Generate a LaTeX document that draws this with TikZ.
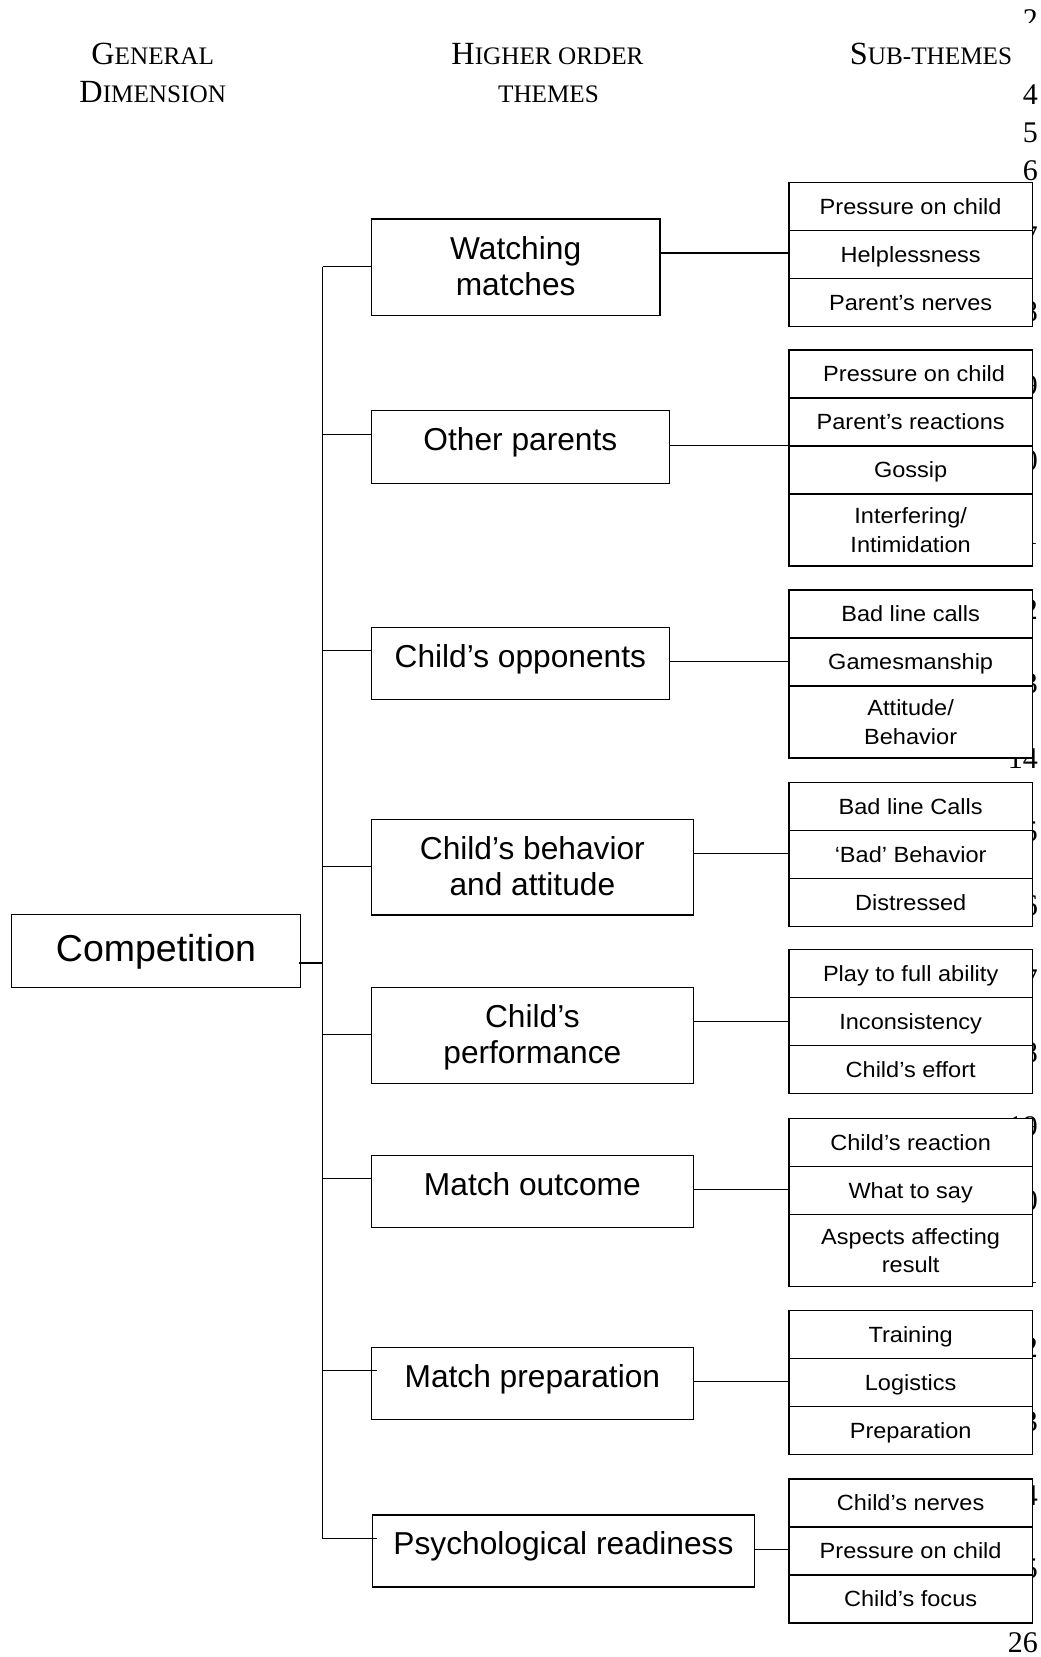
\documentclass[tikz,border=0pt]{standalone}
\usepackage{fontspec}
\setmainfont{Liberation Serif}
\newfontfamily\arialf{Liberation Sans}
\newfontfamily\subf[FakeStretch=1.07]{Liberation Sans}
\newcommand\smcx[1]{{\fontsize{25.2}{25.2}\selectfont #1}}
\newcommand\twoln[2]{\begin{tabular}[t]{@{}c@{}}#1\\#2\end{tabular}}
\begin{document}
\begin{tikzpicture}[x=1pt,y=-1pt,
  box/.style={draw, line width=1.3pt, inner sep=0pt, fill=white, anchor=north west},
  midone/.style={box, font=\arialf\fontsize{31.7}{36}\selectfont, text height=22.7pt, text depth=15.2pt},
  midtwo/.style={box, font=\arialf\fontsize{31.7}{36}\selectfont, text height=22.7pt, text depth=38.1pt},
  subone/.style={box, font=\subf\fontsize{22}{28.5}\selectfont, minimum width=243.4pt, minimum height=48pt, text height=15.7pt, text depth=0pt},
  subtwo/.style={subone, minimum height=72pt, text depth=28.5pt},
  hdr/.style={font=\fontsize{32.3}{38}\selectfont, inner sep=0pt, anchor=base},
  lnum/.style={font=\fontsize{30}{30}\selectfont, inner sep=0pt, anchor=base east},
  trunkline/.style={line width=1.4pt},
  conn/.style={line width=1.15pt}]
\useasboundingbox (0,0) rectangle (1041,1657);
\fill[white] (0,0) rectangle (1041,1657);

% stray line numbers of the page (partly hidden behind boxes)
\node[lnum] (n2) at (1038,29.5) {2};
\node[lnum] (n3) at (1038,66.6) {3};
\node[lnum] (n4) at (1038,104.6) {4};
\node[lnum] (n5) at (1038,142.6) {5};
\node[lnum] (n6) at (1038,180.6) {6};
\foreach \n in {7,...,13} {
  \node[lnum] (n\n) at (1038,{768-(14-\n)*74.5}) {\n};
}
\foreach \n in {14,...,26} {
  \node[lnum] (n\n) at (1038,{768+(\n-14)*73.7}) {\n};
}
\fill[white] (800,22.5) rectangle (1041,82);

% headers
\node[hdr] (h1a) at (152.7,64.5) {G\smcx{ENERAL}};
\node[hdr] (h1b) at (152.7,102.5) {D\smcx{IMENSION}};
\node[hdr] (h2a) at (547.5,64.5) {H\smcx{IGHER ORDER}};
\node[hdr] (h2b) at (548.5,102.5) {\smcx{THEMES}};
\node[hdr] (h3a) at (931,64.5) {S\smcx{UB-THEMES}};

% general dimension
\node[box, font=\arialf\fontsize{37.5}{40}\selectfont, text height=26.8pt, text depth=6.8pt,
      minimum width=289.3pt, minimum height=73pt] (comp) at (10.7,914) {Competition};

% higher order themes
\node[midtwo, minimum width=288.6pt, minimum height=96.4pt] (m1) at (370.7,218.3) {\twoln{Watching}{matches}};
\node[midone, minimum width=298pt, minimum height=72.7pt] (m2) at (370.7,410) {Other parents};
\node[midone, minimum width=298pt, minimum height=72pt] (m3) at (370.7,626.7) {Child’s opponents};
\node[midtwo, minimum width=322pt, minimum height=95.3pt] (m4) at (370.7,819) {\twoln{Child’s behavior}{and attitude}};
\node[midtwo, minimum width=322pt, minimum height=96pt] (m5) at (370.7,986.5) {\twoln{Child’s}{performance}};
\node[midone, minimum width=322pt, minimum height=72.3pt] (m6) at (370.7,1154.7) {Match outcome};
\node[midone, minimum width=322pt, minimum height=72pt] (m7) at (370.7,1346.7) {Match preparation};
\node[midone, minimum width=382.3pt, minimum height=72pt] (m8) at (371.7,1514.3) {Psychological readiness};

% sub-themes
\node[subone] (s1a) at (788.3,181.7) {Pressure on child};
\node[subone] (s1b) at (788.3,229.7) {Helplessness};
\node[subone] (s1c) at (788.3,277.7) {Parent’s nerves};

\node[subone] (s2a) at (788.3,349.3) {\hspace{7pt}Pressure on child};
\node[subone] (s2b) at (788.3,397.3) {Parent’s reactions};
\node[subone] (s2c) at (788.3,445.3) {Gossip};
\node[subtwo] (s2d) at (788.3,493.3) {\twoln{Interfering/}{Intimidation}};

\node[subone] (s3a) at (788.3,589.3) {Bad line calls};
\node[subone] (s3b) at (788.3,637.3) {Gamesmanship};
\node[subtwo] (s3c) at (788.3,685.3) {\twoln{Attitude/}{Behavior}};

\node[subone] (s4a) at (788.3,781.7) {Bad line Calls};
\node[subone] (s4b) at (788.3,829.7) {‘Bad’ Behavior};
\node[subone] (s4c) at (788.3,877.7) {Distressed};

\node[subone] (s5a) at (788.3,949) {Play to full ability};
\node[subone] (s5b) at (788.3,997) {Inconsistency};
\node[subone] (s5c) at (788.3,1045) {Child’s effort};

\node[subone] (s6a) at (788.3,1117.8) {Child’s reaction};
\node[subone] (s6b) at (788.3,1165.8) {What to say};
\node[subtwo] (s6c) at (788.3,1213.8) {\twoln{Aspects affecting}{result}};

\node[subone] (s7a) at (788.3,1309.6) {Training};
\node[subone] (s7b) at (788.3,1357.6) {Logistics};
\node[subone] (s7c) at (788.3,1405.6) {Preparation};

\node[subone] (s8a) at (788.3,1478.3) {Child’s nerves};
\node[subone] (s8b) at (788.3,1526.3) {Pressure on child};
\node[subone] (s8c) at (788.3,1574.3) {Child’s focus};

% trunk
\coordinate (tk0) at (322.7,963);
\coordinate (tk1) at (322.7,266.7);
\coordinate (tk2) at (322.7,434.7);
\coordinate (tk3) at (322.7,650.7);
\coordinate (tk4) at (322.7,866.7);
\coordinate (tk5) at (322.7,1034.5);
\coordinate (tk6) at (322.7,1178.7);
\coordinate (tk7) at (322.7,1370.7);
\coordinate (tk8) at (322.7,1538.7);
\draw[trunkline] (tk1) -- (tk8);
\draw[trunkline] ([xshift=-2pt]comp.east |- tk0) -- (tk0);
\draw[trunkline] (tk1) -- (m1.west |- tk1);
\draw[trunkline] (tk2) -- (m2.west |- tk2);
\draw[trunkline] (tk3) -- (m3.west |- tk3);
\draw[trunkline] (tk4) -- (m4.west |- tk4);
\draw[trunkline] (tk5) -- (m5.west |- tk5);
\draw[trunkline] (tk6) -- (m6.west |- tk6);
\draw[trunkline] (tk7) -- ([xshift=6pt]m7.west |- tk7);
\draw[trunkline] (tk8) -- ([xshift=5pt]m8.west |- tk8);

% connectors to sub-theme stacks
\coordinate (r1) at (700,253);
\coordinate (r2) at (700,445.3);
\coordinate (r3) at (700,661.3);
\coordinate (r4) at (700,853.3);
\coordinate (r5) at (700,1021.5);
\coordinate (r6) at (700,1189.3);
\coordinate (r7) at (700,1381.3);
\coordinate (r8) at (700,1549.3);
\draw[conn] (m1.east |- r1) -- (s1b.west |- r1);
\draw[conn] (m2.east |- r2) -- (s2c.west |- r2);
\draw[conn] (m3.east |- r3) -- (s3b.west |- r3);
\draw[conn] (m4.east |- r4) -- (s4b.west |- r4);
\draw[conn] (m5.east |- r5) -- (s5b.west |- r5);
\draw[conn] (m6.east |- r6) -- (s6b.west |- r6);
\draw[conn] (m7.east |- r7) -- (s7b.west |- r7);
\draw[conn] (m8.east |- r8) -- (s8b.west |- r8);
\end{tikzpicture}
\end{document}
